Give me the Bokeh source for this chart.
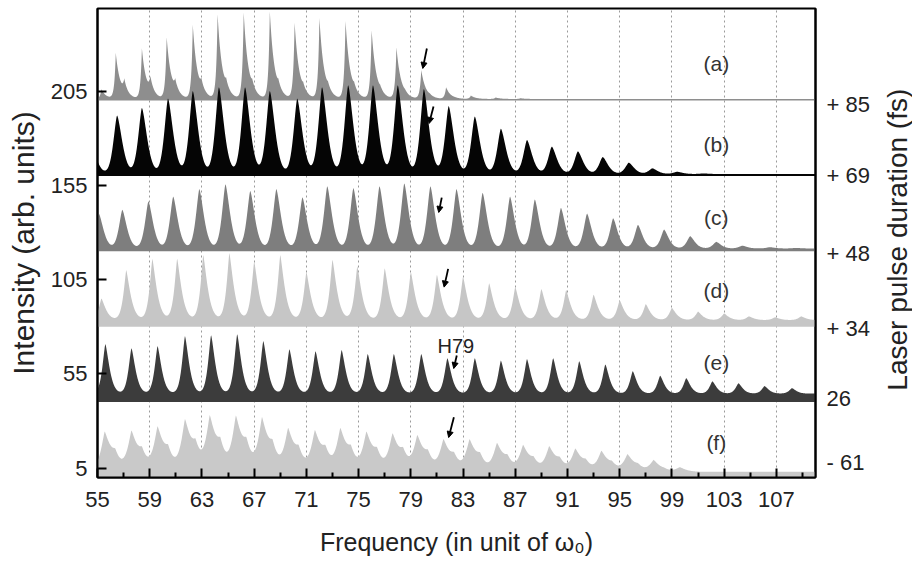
import math
import numpy as np
from bokeh.plotting import figure
from bokeh.layouts import row
from bokeh.models import (Range1d, LinearAxis, FixedTicker, Arrow, Label,
                          NormalHead, ColumnDataSource)
from bokeh.core.properties import value
from bokeh.embed import file_html
from bokeh.resources import INLINE

# ---------------- data ----------------
x_ticks = [55, 59, 63, 67, 71, 75, 79, 83, 87, 91, 95, 99, 103, 107]
x_minor = [57, 61, 65, 69, 73, 77, 81, 85, 89, 93, 97, 101, 105, 109]
y_ticks = [5, 55, 105, 155, 205]
right_ticks = [198, 160, 119, 79, 42, 8]
right_labels = ["+ 85", "+ 69", "+ 48", "+ 34", "26", "- 61"]

panel_names = ["(a)", "(b)", "(c)", "(d)", "(e)", "(f)"]
baselines = [200, 160, 120, 80, 40, 0]
floors = [0.8, 1.0, 1.5, 3.5, 4.5, 3.0]

a_pos = [55.3, 56.4, 58.4, 60.3, 62.3, 64.2, 66.2, 68.2, 70.1, 72.0, 74.0, 76.0,
         77.9, 79.8, 81.7, 83.6, 85.5, 87.4]
a_h = [6, 25, 27.5, 33.3, 40, 45.5, 46.5, 47, 41, 43.5, 42, 37, 28, 16, 7, 2.6, 1.6, 1.2]
a_sh = [0, 9.5, 10.6, 8, 7, 6, 5, 5, 4, 4, 4, 3, 2, 1.5, 1, 0, 0, 0]

b_pos = [54.5, 56.5, 58.4, 60.4, 62.3, 64.3, 66.3, 68.2, 70.3, 72.2, 74.2, 76.1,
         78.0, 80.0, 81.9, 83.9, 85.9, 87.9, 89.8, 91.8, 93.7, 95.7, 97.5, 99.4, 101.4]
b_h = [17, 32, 36, 41, 45, 47, 47, 45, 41, 47, 48, 48, 48, 46, 37, 31.5, 25, 19,
       15.5, 13, 10, 7, 4, 2.2, 1.3]

c_pos = [55.1, 56.9, 58.9, 60.8, 62.8, 64.8, 66.7, 68.7, 70.7, 72.6, 74.6, 76.6,
         78.5, 80.5, 82.5, 84.5, 86.6, 88.5, 90.5, 92.5, 94.5, 96.4, 98.4, 100.4,
         102.4, 104.4, 106.5, 108.5]
c_h = [20, 22, 26.5, 29, 33, 35.5, 32, 33, 28.6, 34.5, 33.5, 34.5, 36, 34.5, 33, 31,
       29, 27.5, 23, 20, 17.5, 14, 11.5, 8, 5, 3, 2.2, 1.8]

d_pos = [55.3, 57.2, 59.2, 61.1, 63.1, 65.1, 67.0, 69.0, 71.0, 73.0, 74.9, 77.0,
         79.0, 81.0, 83.0, 85.0, 87.0, 89.0, 90.9, 93.0, 95.0, 97.0, 99.0, 101.0,
         103.0, 104.9, 106.9, 108.9]
d_h = [15, 30, 36, 36, 38, 39, 34.5, 38, 29, 35.5, 32, 31, 29, 27.5, 26.5, 23,
       21, 20, 19.5, 17, 14, 12, 10, 8, 7, 5.5, 5, 5.5]

e_pos = [55.6, 57.6, 59.6, 61.7, 63.7, 65.7, 67.7, 69.7, 71.7, 73.7, 75.7, 77.7,
         79.8, 81.8, 83.9, 85.9, 87.9, 89.9, 91.9, 93.9, 96.0, 98.1, 100.1, 102.1,
         104.1, 106.1, 108.2]
e_h = [30.8, 28.6, 29.7, 35, 35.5, 36, 32.4, 28, 27, 27.6, 25.5, 25.5, 25.5, 23.3,
       23.3, 22, 22.8, 23.3, 21.7, 20, 16.4, 14, 12.7, 11, 10, 8.5, 7.4]

f_pos = [55.55, 57.6, 59.6, 61.7, 63.6, 65.6, 67.6, 69.6, 71.65, 73.6, 75.6, 77.6,
         79.5, 81.5, 83.5, 85.6, 87.6, 89.6, 91.6, 93.6, 95.6, 97.6, 99.6, 101.6]
f_h = [23, 23, 25, 28.6, 30, 30, 29.3, 24, 23, 24, 22.3, 21.4, 20.5, 18.7, 18.7,
       17, 16, 15.4, 14.3, 13.3, 11.7, 9, 5.4, 2.5]
f_sh = [12, 13, 14, 16, 17, 17, 16, 14, 14, 14, 13, 13, 12, 11, 11, 10, 9, 9, 8,
        7, 6, 4, 2, 1]

arrow_x0 = [80.23, 80.74, 81.37, 81.86, 82.52, 82.30]
arrow_y0 = [227.6, 196.8, 148.5, 110.7, 64.7, 32.0]
arrow_x1 = [79.92, 80.40, 81.14, 81.55, 82.29, 81.90]
arrow_y1 = [217.0, 187.8, 140.6, 101.0, 57.8, 21.2]

h79_x, h79_y = 82.45, 69.8
label_x = 102.4
label_y = [219.6, 176.7, 137.9, 99.2, 61.0, 18.6]

x_title = "Frequency (in unit of \u03c9\u2080)"
y_title = "Intensity (arb. units)"
right_title = "Laser pulse duration (fs)"

# ---------------- styles ----------------
colors = ["#8e8e8e", "#050505", "#7e7e7e", "#c6c6c6", "#3c3c3c", "#c9c9c9"]
shapes = [(0.11, 0.36, 1.0), (0.40, 0.56, 1.55), (0.37, 0.50, 1.5),
          (0.30, 0.46, 1.3), (0.32, 0.44, 1.4), (0.44, 0.60, 1.25)]
FONT = "Liberation Sans"
TXT = "#222222"

xs = np.linspace(55, 110, 2201)


def spectrum(pos, h, floor, shape, sh=None, sh_off=0.7):
    wl, wr, pw = shape
    y = np.full_like(xs, floor)
    for i, (c, hh) in enumerate(zip(pos, h)):
        amp = max(hh - floor, 0.0)
        dx = xs - c
        w = np.where(dx < 0, wl, wr)
        y += amp * np.exp(-(np.abs(dx) / w) ** pw)
        if sh is not None and sh[i] > 0:
            amp2 = max(sh[i] - floor, 0.0) * 0.8
            dx2 = xs - (c + sh_off)
            w2 = np.where(dx2 < 0, wl * 1.2, wr * 0.8)
            y += amp2 * np.exp(-(np.abs(dx2) / w2) ** pw)
    return y


p = figure(width=872, height=566, output_backend="svg", toolbar_location=None,
           x_range=Range1d(55, 110), y_range=Range1d(0, 248.8),
           min_border_left=97, min_border_right=56, min_border_top=8,
           min_border_bottom=89)
p.background_fill_color = "white"
p.border_fill_color = "white"
p.outline_line_color = "black"
p.outline_line_width = 2

# grid
p.ygrid.visible = False
p.xgrid.ticker = FixedTicker(ticks=x_ticks)
p.xgrid.grid_line_color = "#9a9a9a"
p.xgrid.grid_line_dash = "2 3"
p.xgrid.grid_line_width = 1

traces = [
    (a_pos, a_h, a_sh),
    (b_pos, b_h, None),
    (c_pos, c_h, None),
    (d_pos, d_h, None),
    (e_pos, e_h, None),
    (f_pos, f_h, f_sh),
]
for k, (pos, h, sh) in enumerate(traces):
    off = 0.65 if k == 0 else 0.8
    spec = spectrum(pos, h, floors[k], shapes[k], sh, off)
    base = baselines[k]
    p.varea(x=xs, y1=np.full_like(xs, base), y2=base + spec,
            fill_color=colors[k], fill_alpha=1.0)

# arrows
asrc = ColumnDataSource(dict(x0=arrow_x0, y0=arrow_y0, x1=arrow_x1, y1=arrow_y1))
p.add_layout(Arrow(source=asrc, x_start="x0", y_start="y0", x_end="x1", y_end="y1",
                   line_color="black", line_width=1.8,
                   end=NormalHead(size=6, fill_color="black", line_color="black")))

# text annotations
p.text(x=[label_x] * 6, y=label_y, text=panel_names, text_align="center",
       text_baseline="middle", text_font=value(FONT), text_font_size="21px",
       text_color="#333333")
p.text(x=[h79_x], y=[h79_y], text=["H79"], text_align="center",
       text_baseline="middle", text_font=value(FONT), text_font_size="20px",
       text_color=TXT)

# axes
xa = p.xaxis[0]
xa.ticker = FixedTicker(ticks=x_ticks, minor_ticks=x_minor)
xa.major_tick_in = 9
xa.major_tick_out = 0
xa.minor_tick_in = 5
xa.minor_tick_out = 0
xa.major_label_standoff = 14
xa.axis_label = x_title
xa.axis_label_standoff = 18

ya = p.yaxis[0]
ya.ticker = FixedTicker(ticks=y_ticks, minor_ticks=[])
ya.major_tick_in = 9
ya.major_tick_out = 0
ya.minor_tick_in = 0
ya.minor_tick_out = 0
ya.major_label_standoff = 10
ya.axis_label = y_title
ya.axis_label_standoff = 8

ra = LinearAxis(ticker=FixedTicker(ticks=right_ticks, minor_ticks=[]),
                major_label_overrides={t: l for t, l in zip(right_ticks, right_labels)})
ra.major_tick_in = 0
ra.major_tick_out = 0
ra.minor_tick_in = 0
ra.minor_tick_out = 0
ra.major_label_standoff = 11
p.add_layout(ra, "right")

for ax in [xa, ya, ra]:
    ax.axis_line_color = "black"
    ax.axis_line_width = 2
    ax.major_tick_line_color = "black"
    ax.major_tick_line_width = 2
    ax.minor_tick_line_color = "black"
    ax.minor_tick_line_width = 2
    ax.major_label_text_font = FONT
    ax.major_label_text_font_size = "22px"
    ax.major_label_text_color = TXT
    ax.axis_label_text_font = FONT
    ax.axis_label_text_font_style = "normal"
    ax.axis_label_text_color = TXT
xa.axis_label_text_font_size = "25px"
ya.axis_label_text_font_size = "30px"

# narrow side panel holding the right-hand title (reads bottom to top)
side = figure(width=40, height=566, output_backend="svg", toolbar_location=None,
              x_range=Range1d(0, 40), y_range=Range1d(0, 566),
              x_axis_type=None, y_axis_type=None, min_border=0)
side.outline_line_color = None
side.grid.visible = False
side.background_fill_color = "white"
side.border_fill_color = "white"
side.add_layout(Label(x=25, y=287, text=right_title, angle=math.pi / 2,
                      text_align="center", text_baseline="middle",
                      text_font=FONT, text_font_size="28px", text_color=TXT))

layout = row(p, side, spacing=0)
open("out.html", "w").write(file_html(layout, INLINE))
